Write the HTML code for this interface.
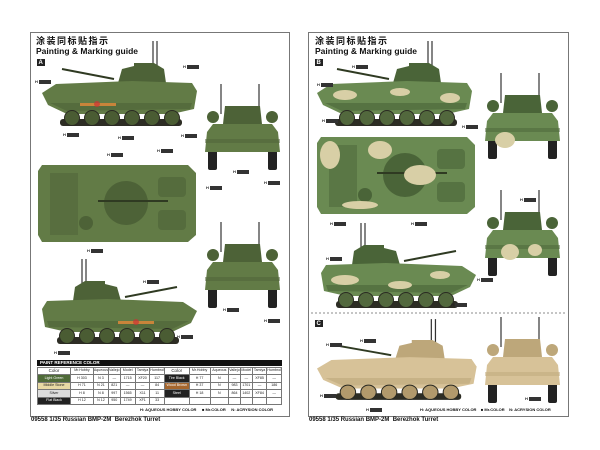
<!DOCTYPE html>
<html><head><meta charset="utf-8"><style>
html,body{margin:0;padding:0;background:#fff;}
body{width:600px;height:450px;position:relative;overflow:hidden;font-family:"Liberation Sans","Noto Sans CJK SC",sans-serif;}
.t{position:absolute;white-space:nowrap;color:#111;line-height:1;}
table{position:absolute;border-collapse:collapse;font-size:3.6px;font-family:"Liberation Sans",sans-serif;line-height:1;}
td{border:0.6px solid #777;height:6.4px;padding:0;text-align:center;color:#222;}
</style></head><body>
<svg width="600" height="450" style="position:absolute;left:0;top:0">
<defs>
<g id="side">
 <line x1="111" y1="-22" x2="111" y2="4" stroke="#333" stroke-width="1.2"/>
 <line x1="115" y1="-22" x2="115" y2="4" stroke="#333" stroke-width="1.2"/>
 <line x1="72" y1="16" x2="20" y2="6" stroke="#2f3a22" stroke-width="2"/>
 <path d="M76 20 L80 6 L92 3 L92 0 L112 0 L122 6 L124 20 Z" style="fill:var(--d)"/>
 <path d="M0 30 L14 21 L90 18 L150 20 L155 28 L152 46 L130 51 L25 51 L6 42 Z" style="fill:var(--c)"/>
 <path d="M8 40 L150 40 L148 46 L25 48 Z" style="fill:var(--d)" opacity="0.6"/>
 <rect x="18" y="56" width="122" height="7" rx="3" fill="#2d2d24"/>
 <g style="fill:var(--w)" stroke="#2a2a22" stroke-width="1">
  <circle cx="30" cy="55" r="7.5"/><circle cx="50" cy="55" r="7.5"/><circle cx="70" cy="55" r="7.5"/>
  <circle cx="90" cy="55" r="7.5"/><circle cx="110" cy="55" r="7.5"/><circle cx="130" cy="55" r="7.5"/>
 </g>
</g>
<g id="front">
 <line x1="16" y1="0" x2="16" y2="30" stroke="#333" stroke-width="1.2"/>
 <line x1="54" y1="0" x2="54" y2="30" stroke="#333" stroke-width="1.2"/>
 <rect x="3" y="66" width="9" height="20" rx="2" fill="#222"/>
 <rect x="63" y="66" width="9" height="20" rx="2" fill="#222"/>
 <path d="M18 40 L20 22 L55 22 L57 40 Z" style="fill:var(--d)"/>
 <circle cx="8" cy="33" r="6" style="fill:var(--d)"/><circle cx="67" cy="33" r="6" style="fill:var(--d)"/>
 <path d="M2 48 L8 40 L67 40 L73 48 L75 68 L0 68 Z" style="fill:var(--c)"/>
 <rect x="0" y="55" width="75" height="4" style="fill:var(--d)" opacity="0.5"/>
</g>
<g id="top">
 <path d="M4 0 L150 0 L158 8 L158 70 L150 77 L4 77 L0 70 L0 6 Z" style="fill:var(--c)"/>
 <rect x="12" y="8" width="28" height="62" style="fill:var(--d)" opacity="0.5"/>
 <circle cx="88" cy="38" r="22" style="fill:var(--d)"/>
 <rect x="120" y="12" width="28" height="20" rx="4" style="fill:var(--d)" opacity="0.6"/>
 <rect x="120" y="45" width="28" height="20" rx="4" style="fill:var(--d)" opacity="0.6"/>
 <line x1="60" y1="36" x2="130" y2="36" stroke="#2f3a22" stroke-width="2"/>
 <circle cx="48" cy="58" r="7" style="fill:var(--d)"/>
</g>
</defs>
<rect x="30.5" y="32.5" width="259" height="384" fill="#fff" stroke="#777" stroke-width="1"/>
<rect x="308.5" y="32.5" width="260" height="384" fill="#fff" stroke="#777" stroke-width="1"/>
<rect x="37" y="59" width="8" height="7" fill="#222"/>
<rect x="315" y="59" width="8" height="7" fill="#222"/>
<rect x="315" y="320" width="8" height="7" fill="#222"/>
<g style="--c:#627b46;--d:#4d6237;--w:#4a5c33">
 <use href="#side" transform="translate(42,63)"/>
 <use href="#front" transform="translate(205,84)"/>
 <use href="#top" transform="translate(38,165)"/>
 <use href="#side" transform="translate(197,281) scale(-1,1)"/>
 <use href="#front" transform="translate(205,222)"/>
</g>
<rect x="80" y="103" width="36" height="3" fill="#c8843a"/><circle cx="97" cy="104" r="3" fill="#c33" opacity=".7"/>
<rect x="118" y="321" width="36" height="3" fill="#c8843a"/><circle cx="136" cy="322" r="3" fill="#c33" opacity=".7"/>
<g style="--c:#6a8a52;--d:#4a6438;--w:#52683d">
 <use href="#side" transform="translate(317,63)"/>
 <use href="#front" transform="translate(485,73)"/>
 <use href="#top" transform="translate(317,137)"/>
 <use href="#side" transform="translate(476,245) scale(-1,1)"/>
 <use href="#front" transform="translate(485,190)"/>
</g>
<g fill="#d8cfa6">
 <ellipse cx="345" cy="95" rx="12" ry="5"/><ellipse cx="400" cy="92" rx="10" ry="4"/><ellipse cx="450" cy="98" rx="10" ry="5"/>
 <ellipse cx="330" cy="155" rx="10" ry="14"/><ellipse cx="380" cy="150" rx="12" ry="9"/><ellipse cx="420" cy="175" rx="16" ry="10"/><ellipse cx="360" cy="205" rx="18" ry="4"/>
 <ellipse cx="345" cy="280" rx="14" ry="5"/><ellipse cx="400" cy="285" rx="12" ry="4"/><ellipse cx="440" cy="275" rx="10" ry="4"/>
 <ellipse cx="505" cy="140" rx="10" ry="8"/><ellipse cx="510" cy="252" rx="9" ry="8"/><ellipse cx="535" cy="250" rx="7" ry="6"/>
</g>
<line x1="311" y1="313" x2="567" y2="313" stroke="#666" stroke-dasharray="2,2" stroke-width="0.8"/>
<g style="--c:#d7c298;--d:#bda77a;--w:#b29a6c">
 <use href="#side" transform="translate(317,340) scale(1.03,0.95)"/>
 <use href="#front" transform="translate(485,317)"/>
</g>
<rect x="37" y="360" width="245" height="6" fill="#111"/>
<g font-family="Liberation Sans" font-size="4" font-weight="bold" fill="#222">
 <text x="183" y="68">H</text><rect x="187" y="65" width="12" height="4" fill="#333"/>
 <text x="35" y="83">H</text><rect x="39" y="80" width="12" height="4" fill="#333"/>
 <text x="63" y="136">H</text><rect x="67" y="133" width="12" height="4" fill="#333"/>
 <text x="118" y="139">H</text><rect x="122" y="136" width="12" height="4" fill="#333"/>
 <text x="181" y="137">H</text><rect x="185" y="134" width="12" height="4" fill="#333"/>
 <text x="107" y="156">H</text><rect x="111" y="153" width="12" height="4" fill="#333"/>
 <text x="157" y="152">H</text><rect x="161" y="149" width="12" height="4" fill="#333"/>
 <text x="206" y="189">H</text><rect x="210" y="186" width="12" height="4" fill="#333"/>
 <text x="233" y="173">H</text><rect x="237" y="170" width="12" height="4" fill="#333"/>
 <text x="264" y="184">H</text><rect x="268" y="181" width="12" height="4" fill="#333"/>
 <text x="87" y="252">H</text><rect x="91" y="249" width="12" height="4" fill="#333"/>
 <text x="143" y="283">H</text><rect x="147" y="280" width="12" height="4" fill="#333"/>
 <text x="177" y="338">H</text><rect x="181" y="335" width="12" height="4" fill="#333"/>
 <text x="54" y="354">H</text><rect x="58" y="351" width="12" height="4" fill="#333"/>
 <text x="223" y="311">H</text><rect x="227" y="308" width="12" height="4" fill="#333"/>
 <text x="264" y="322">H</text><rect x="268" y="319" width="12" height="4" fill="#333"/>
 <text x="352" y="68">H</text><rect x="356" y="65" width="12" height="4" fill="#333"/>
 <text x="317" y="86">H</text><rect x="321" y="83" width="12" height="4" fill="#333"/>
 <text x="322" y="122">H</text><rect x="326" y="119" width="12" height="4" fill="#333"/>
 <text x="462" y="128">H</text><rect x="466" y="125" width="12" height="4" fill="#333"/>
 <text x="520" y="201">H</text><rect x="524" y="198" width="12" height="4" fill="#333"/>
 <text x="330" y="225">H</text><rect x="334" y="222" width="12" height="4" fill="#333"/>
 <text x="411" y="225">H</text><rect x="415" y="222" width="12" height="4" fill="#333"/>
 <text x="326" y="260">H</text><rect x="330" y="257" width="12" height="4" fill="#333"/>
 <text x="477" y="281">H</text><rect x="481" y="278" width="12" height="4" fill="#333"/>
 <text x="451" y="306">H</text><rect x="455" y="303" width="12" height="4" fill="#333"/>
 <text x="326" y="346">H</text><rect x="330" y="343" width="12" height="4" fill="#333"/>
 <text x="360" y="342">H</text><rect x="364" y="339" width="12" height="4" fill="#333"/>
 <text x="320" y="397">H</text><rect x="324" y="394" width="12" height="4" fill="#333"/>
 <text x="366" y="411">H</text><rect x="370" y="408" width="12" height="4" fill="#333"/>
 <text x="525" y="400">H</text><rect x="529" y="397" width="12" height="4" fill="#333"/>
</g>
</svg>
<div class="t" style="left:36px;top:36px;font-size:9px;font-weight:bold;letter-spacing:1.5px;font-family:'Noto Sans CJK SC',sans-serif">涂装同标贴指示</div>
<div class="t" style="left:36px;top:47px;font-size:8.5px;font-weight:bold">Painting &amp; Marking guide</div>
<div class="t" style="left:315px;top:36px;font-size:9px;font-weight:bold;letter-spacing:1.5px;font-family:'Noto Sans CJK SC',sans-serif">涂装同标贴指示</div>
<div class="t" style="left:315px;top:47px;font-size:8.5px;font-weight:bold">Painting &amp; Marking guide</div>
<div class="t" style="left:38.5px;top:60px;font-size:6px;font-weight:bold;color:#fff">A</div>
<div class="t" style="left:316.5px;top:60px;font-size:6px;font-weight:bold;color:#fff">B</div>
<div class="t" style="left:316.5px;top:321px;font-size:6px;font-weight:bold;color:#fff">C</div>
<div class="t" style="left:40px;top:361px;font-size:4.5px;font-weight:bold;color:#fff">PAINT REFERENCE COLOR</div>
<table style="left:37px;top:367px;width:245px">
<tr><td style="width:36px;font-size:4.5px">Color</td><td style="width:23px">Mr.Hobby</td><td style="width:14px">Aqueous</td><td style="width:10px">Vallejo</td><td style="width:15px">Model</td><td style="width:14px">Tamiya</td><td style="width:13px">Humbrol</td><td style="width:26px;font-size:4.5px">Color</td><td style="width:21px">Mr.Hobby</td><td style="width:18px">Aqueous</td><td style="width:11px">Vallejo</td><td style="width:11px">Model</td><td style="width:14px">Tamiya</td><td>Humbrol</td></tr>
<tr><td style="background:#4f6b38;color:#fff">Light Green</td><td>H 303</td><td>N 3</td><td>—</td><td>1715</td><td>XF20</td><td>117</td><td style="background:#222;color:#fff">Tire Black</td><td>H 77</td><td>N</td><td>—</td><td>—</td><td>XF85</td><td>—</td></tr>
<tr><td style="background:#e8d9a4">Middle Stone</td><td>H 71</td><td>N 21</td><td>821</td><td>—</td><td>—</td><td>84</td><td style="background:#a5662e;color:#fff">Wood Brown</td><td>H 37</td><td>N</td><td>983</td><td>1701</td><td>—</td><td>186</td></tr>
<tr><td style="background:#ddd">Silver</td><td>H 8</td><td>N 8</td><td>997</td><td>1565</td><td>X11</td><td>11</td><td style="background:#222;color:#fff">Steel</td><td>H 18</td><td>N</td><td>864</td><td>1402</td><td>XF84</td><td>—</td></tr>
<tr><td style="background:#222;color:#fff">Flat Black</td><td>H 12</td><td>N 12</td><td>950</td><td>1749</td><td>XF1</td><td>33</td><td></td><td></td><td></td><td></td><td></td><td></td><td></td></tr>
</table>
<div class="t" style="left:140px;top:408px;font-size:4px;font-weight:bold">H: AQUEOUS HOBBY COLOR &nbsp;&nbsp;&nbsp; ■ Mr.COLOR &nbsp;&nbsp;&nbsp; N: ACRYSION COLOR</div>
<div class="t" style="left:420px;top:408px;font-size:4px;font-weight:bold">H: AQUEOUS HOBBY COLOR &nbsp;&nbsp; ■ Mr.COLOR &nbsp;&nbsp; N: ACRYSION COLOR</div>
<div class="t" style="left:31px;top:417px;font-size:6px;font-weight:bold">09558 1/35 Russian BMP-2M &nbsp;Berezhok Turret</div>
<div class="t" style="left:309px;top:417px;font-size:6px;font-weight:bold">09558 1/35 Russian BMP-2M &nbsp;Berezhok Turret</div>
</body></html>
